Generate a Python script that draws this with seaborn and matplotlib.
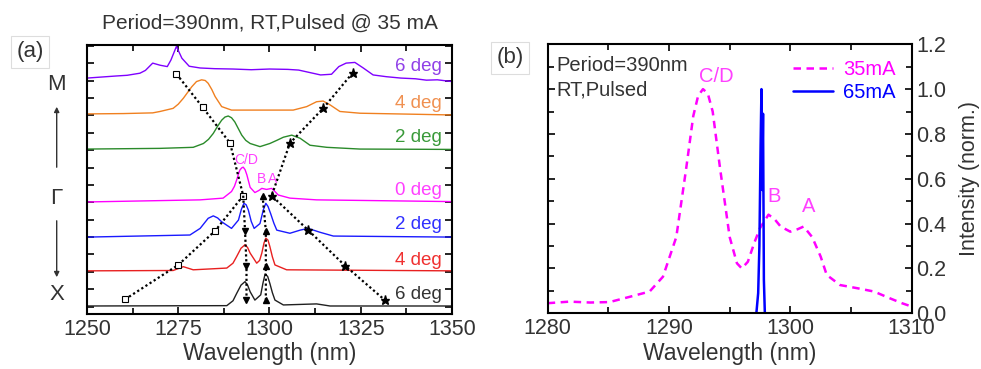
import numpy as np
import pandas as pd
import matplotlib
matplotlib.use("Agg")
import matplotlib.pyplot as plt
from matplotlib.ticker import MultipleLocator
import seaborn as sns

sns.set_style("ticks")
plt.rcParams['font.family'] = ['Liberation Sans', 'DejaVu Sans']

# ---------------- data: panel (a) ----------------
# heights above each trace baseline (arb. units), wavelengths in nm
wl_6u = [1250, 1254, 1258, 1261, 1264.5, 1266, 1268, 1270, 1272, 1273, 1274.5, 1276, 1278, 1281,
         1285, 1290, 1295, 1300, 1305, 1308, 1311, 1314, 1317, 1319, 1321, 1323.4, 1325.7,
         1328.4, 1332, 1336, 1340, 1343, 1346, 1350]
h_6u = [0, 0.03, 0.06, 0.08, 0.14, 0.22, 0.43, 0.37, 0.33, 0.52, 0.91, 0.57, 0.34, 0.29,
        0.27, 0.26, 0.24, 0.26, 0.25, 0.23, 0.16, 0.09, 0.11, 0.33, 0.43, 0.45, 0.29,
        0.09, 0.04, 0.0, -0.02, -0.06, -0.05, -0.1]

wl_4u = [1250, 1260, 1268, 1270, 1273.6, 1275, 1276.4, 1278.7, 1280, 1281.4, 1282.4, 1283.2,
         1284.2, 1285.1, 1286.9, 1289.6, 1297.4, 1306.5, 1310.2, 1312.9, 1314.7, 1316.6,
         1319.3, 1324.8, 1335, 1350]
h_4u = [0, 0.01, 0.03, 0.07, 0.16, 0.28, 0.45, 0.78, 0.93, 0.98, 0.96, 0.88,
        0.70, 0.50, 0.21, 0.11, 0.11, 0.11, 0.21, 0.35, 0.37, 0.26,
        0.07, 0.02, 0, -0.03]

wl_2u = [1250, 1270, 1279.1, 1281.9, 1283.3, 1284.6, 1285.8, 1286.9, 1287.8, 1288.7, 1289.6,
         1290.5, 1291.5, 1292.4, 1293.5, 1294.7, 1297.4, 1300.1, 1302, 1303.8, 1306.1, 1308.4,
         1311.1, 1315.7, 1324.8, 1350]
h_2u = [0, 0.02, 0.05, 0.16, 0.28, 0.45, 0.66, 0.83, 0.92, 0.95, 0.90,
        0.78, 0.58, 0.40, 0.25, 0.16, 0.07, 0.16, 0.25, 0.34, 0.40, 0.31,
        0.11, 0.05, 0, -0.01]

wl_0 = [1250, 1281, 1287.3, 1289.6, 1290.4, 1291, 1291.5, 1291.9, 1292.4, 1292.8, 1293.3,
        1293.8, 1294.7, 1296, 1297.1, 1297.9, 1299.2, 1300.6, 1301.5, 1302.4, 1305.6, 1312.9, 1350]
h_0 = [0, 0.06, 0.11, 0.30, 0.45, 0.63, 0.80, 0.92, 0.98, 1.0, 0.93,
       0.78, 0.42, 0.27, 0.33, 0.39, 0.36, 0.39, 0.30, 0.20, 0.11, 0.06, 0.01]

wl_2d = [1250, 1278.2, 1281, 1283.2, 1284.6, 1285.8, 1286.9, 1289.6, 1291.5, 1292.3, 1293,
         1293.6, 1294.2, 1295, 1295.8, 1297.4, 1298.3, 1299, 1299.6, 1300.3, 1301.2, 1302,
         1305.6, 1308.4, 1310.6, 1313.8, 1317.5, 1350]
h_2d = [0, 0.06, 0.25, 0.54, 0.61, 0.55, 0.44, 0.25, 0.49, 0.80, 0.97,
        0.93, 0.78, 0.45, 0.25, 0.39, 0.78, 0.97, 0.88, 0.68, 0.40, 0.20,
        0.11, 0.20, 0.25, 0.14, 0.03, 0]

wl_4d = [1250, 1273.6, 1276.4, 1279.1, 1288.3, 1290, 1291, 1292.2, 1293.3, 1294, 1294.7,
         1296.5, 1297.3, 1297.9, 1298.5, 1299, 1299.6, 1300.1, 1300.8, 1301.5, 1304.7, 1350]
h_4d = [0, 0.01, 0.12, 0.03, 0.08, 0.22, 0.41, 0.65, 0.75, 0.67, 0.51,
        0.22, 0.30, 0.51, 0.80, 0.94, 0.88, 0.70, 0.40, 0.17, 0.03, 0]

wl_6d = [1250, 1288.3, 1290, 1291, 1292.2, 1293.3, 1294, 1294.7, 1296, 1297.6, 1298.2,
         1298.8, 1299.5, 1300.1, 1300.8, 1301.5, 1303.8, 1312.9, 1316.6, 1350]
h_6d = [0, 0.01, 0.15, 0.36, 0.60, 0.70, 0.60, 0.41, 0.17, 0.32, 0.65,
        0.92, 0.85, 0.65, 0.38, 0.17, 0.03, 0.06, 0, 0]

curve_names = ["6u", "4u", "2u", "0", "2d", "4d", "6d"]
curve_wl = [wl_6u, wl_4u, wl_2u, wl_0, wl_2d, wl_4d, wl_6d]
curve_h = [h_6u, h_4u, h_2u, h_0, h_2d, h_4d, h_6d]
curve_offset = [6.57, 5.54, 4.53, 3.01, 2.0, 1.03, 0.02]
curve_label = ["6 deg", "4 deg", "2 deg", "0 deg", "2 deg", "4 deg", "6 deg"]
curve_label_y = [6.89, 5.85, 4.85, 3.35, 2.35, 1.34, 0.34]
line_colors = ["#7f00ff", "#f08020", "#2a8a2a", "#ff00ff", "#1a1aff", "#e82020", "#202020"]
text_colors = ["#9040e8", "#f09050", "#3a9a3a", "#ff40ff", "#3030ff", "#f03030", "#333333"]

# mode-tracking chains
sq_wl = [1274.5, 1281.7, 1289.2, 1292.8, 1285.1, 1275.0, 1260.4]
sq_y = [6.69, 5.73, 4.70, 3.19, 2.18, 1.20, 0.21]
tdn_wl = [1292.8, 1293.3, 1293.7, 1293.7]
tdn_y = [3.19, 2.18, 1.18, 0.19]
st_wl = [1322.8, 1314.7, 1305.6, 1300.6, 1310.6, 1320.7, 1331.6]
st_y = [6.72, 5.70, 4.70, 3.19, 2.20, 1.18, 0.19]
tup_wl = [1298.1, 1299.0, 1299.0, 1299.0]
tup_y = [3.19, 2.18, 1.18, 0.19]

# ---------------- data: panel (b) ----------------
wl_35 = [1280, 1281.8, 1283.5, 1285.1, 1286.8, 1288.4, 1289.5, 1290.6, 1291.4, 1292.0, 1292.4,
         1292.8, 1293.2, 1293.6, 1294.2, 1295.0, 1295.6, 1296.0, 1296.5, 1297.0, 1297.5,
         1298.2, 1298.7, 1299.2, 1300.0, 1300.6, 1301.1, 1301.8, 1302.5, 1303.0, 1304.1,
         1305.5, 1306.9, 1308.2, 1309.2, 1310]
i_35 = [0.045, 0.052, 0.048, 0.05, 0.074, 0.097, 0.163, 0.34, 0.64, 0.88, 0.97,
        1.0, 0.98, 0.90, 0.65, 0.34, 0.223, 0.2, 0.23, 0.31, 0.38,
        0.44, 0.42, 0.387, 0.364, 0.375, 0.387, 0.34, 0.253, 0.171, 0.126,
        0.112, 0.097, 0.067, 0.045, 0.03]
wl_65 = [1296.5, 1297.2, 1297.35, 1297.45, 1297.55, 1297.62, 1297.68, 1297.75, 1297.82, 1297.9, 1298.6]
i_65 = [0, 0, 0.09, 0.3, 0.75, 1.0, 0.55, 0.89, 0.15, 0, 0]

# ---------------- figure ----------------
fig = plt.figure(figsize=(9.81, 3.69), dpi=100)
axA = fig.add_axes([0.0887, 0.150, 0.372, 0.728])
axB = fig.add_axes([0.5583, 0.151, 0.371, 0.729])

TXT = "#333333"

rows = []
for name, wl, h, off in zip(curve_names, curve_wl, curve_h, curve_offset):
    for w, v in zip(wl, h):
        rows.append({"wl": w, "y": v + off, "curve": name})
dfA = pd.DataFrame(rows)
sns.lineplot(data=dfA, x="wl", y="y", hue="curve", hue_order=curve_names,
             palette=line_colors, estimator=None, sort=False, lw=1.0,
             legend=False, ax=axA)

for lab, ly, c in zip(curve_label, curve_label_y, text_colors):
    axA.text(1347.3, ly, lab, color=c, fontsize=13.5, ha="right", va="center")

chain_kw = dict(color="black", ls=(0, (1, 1.2)), lw=1.6)
axA.plot(sq_wl, sq_y, marker="s", ms=4, mfc="white", mec="black", mew=0.8, **chain_kw)
axA.plot(tdn_wl, tdn_y, marker="v", ms=5, markevery=[1, 2, 3], **chain_kw)
axA.plot(st_wl, st_y, marker="*", ms=6.5, **chain_kw)
axA.plot(tup_wl, tup_y, marker="^", ms=5, **chain_kw)

axA.text(1293.7, 4.22, "C/D", color="#ff40ff", fontsize=10, ha="center", va="center")
axA.text(1297.9, 3.67, "B", color="#ff40ff", fontsize=10, ha="center", va="center")
axA.text(1300.9, 3.67, "A", color="#ff40ff", fontsize=10, ha="center", va="center")

axA.set_xlim(1250, 1350)
axA.set_ylim(-0.2, 7.52)
axA.xaxis.set_major_locator(MultipleLocator(25))
axA.xaxis.set_minor_locator(MultipleLocator(12.5))
axA.yaxis.set_major_locator(MultipleLocator(0.5))
axA.set_yticklabels([])
axA.set_xlabel("Wavelength (nm)", fontsize=16.5, color=TXT, labelpad=2)
axA.set_ylabel("")
axA.set_title("Period=390nm, RT,Pulsed @ 35 mA", fontsize=15, color=TXT, pad=12)

# panel (b)
dfB35 = pd.DataFrame({"wl": wl_35, "I": i_35})
dfB65 = pd.DataFrame({"wl": wl_65, "I": i_65})
sns.lineplot(data=dfB35, x="wl", y="I", color="#ff00ff", lw=1.8, ls=(0, (3, 2.2)),
             estimator=None, sort=False, ax=axB, label="35mA")
sns.lineplot(data=dfB65, x="wl", y="I", color="#0000ff", lw=1.8,
             estimator=None, sort=False, ax=axB, label="65mA")
leg = axB.legend(loc="upper right", bbox_to_anchor=(0.99, 0.985), frameon=False,
                 fontsize=14.5, handlelength=2.0, handletextpad=0.5,
                 labelcolor="linecolor", borderaxespad=0.2, labelspacing=0.2)

axB.text(1280.7, 1.106, "Period=390nm", color=TXT, fontsize=14.5, ha="left", va="center")
axB.text(1280.7, 0.995, "RT,Pulsed", color=TXT, fontsize=14.5, ha="left", va="center")
axB.text(1293.9, 1.056, "C/D", color="#ff40ff", fontsize=14.5, ha="center", va="center")
axB.text(1298.7, 0.52, "B", color="#ff40ff", fontsize=14.5, ha="center", va="center")
axB.text(1301.5, 0.476, "A", color="#ff40ff", fontsize=14.5, ha="center", va="center")

axB.set_xlim(1280, 1310)
axB.set_ylim(0, 1.2)
axB.xaxis.set_major_locator(MultipleLocator(10))
axB.xaxis.set_minor_locator(MultipleLocator(5))
axB.yaxis.set_major_locator(MultipleLocator(0.2))
axB.yaxis.set_minor_locator(MultipleLocator(0.1))
axB.yaxis.tick_right()
axB.yaxis.set_label_position("right")
axB.set_xlabel("Wavelength (nm)", fontsize=16.5, color=TXT, labelpad=2)
axB.set_ylabel("Intensity (norm.)", fontsize=15.5, color=TXT, labelpad=9)

for ax in (axA, axB):
    for s in ax.spines.values():
        s.set_linewidth(1.5)
        s.set_color("black")
    ax.tick_params(which="both", direction="in", top=True, bottom=True, left=True, right=True,
                   width=1.2, colors="black", labelcolor=TXT, labelsize=15.5)
    ax.tick_params(which="major", length=5)
    ax.tick_params(which="minor", length=4)
axA.tick_params(which="both", labelleft=False, labelright=False)
axB.tick_params(which="both", labelleft=False, labelright=True)
axB.yaxis.set_major_formatter(matplotlib.ticker.FormatStrFormatter("%.1f"))

# panel letters
box = dict(boxstyle="square,pad=0.25", fc="white", ec="#dddddd", lw=0.8)
fig.text(30 / 981, 1 - 52 / 369, "(a)", fontsize=16, color=TXT, ha="center", va="center", bbox=box)
fig.text(510 / 981, 1 - 58 / 369, "(b)", fontsize=16, color=TXT, ha="center", va="center", bbox=box)

# M / Gamma / X with arrows
fig.text(56.7 / 981, 1 - 85 / 369, "M", fontsize=16, color=TXT, ha="center", va="center")
fig.text(56.7 / 981, 1 - 198 / 369, "Γ", fontsize=16, color=TXT, ha="center", va="center")
fig.text(56.7 / 981, 1 - 295 / 369, "X", fontsize=16, color=TXT, ha="center", va="center")
fig.add_artist(matplotlib.patches.FancyArrowPatch(
    (56.7 / 981, 1 - 170 / 369), (56.7 / 981, 1 - 104 / 369), transform=fig.transFigure,
    arrowstyle="-|>,head_length=3,head_width=1.5", color="#333333", lw=1.0))
fig.add_artist(matplotlib.patches.FancyArrowPatch(
    (56.7 / 981, 1 - 218 / 369), (56.7 / 981, 1 - 280 / 369), transform=fig.transFigure,
    arrowstyle="-|>,head_length=3,head_width=1.5", color="#333333", lw=1.0))

fig.savefig("out.png", dpi=100)
